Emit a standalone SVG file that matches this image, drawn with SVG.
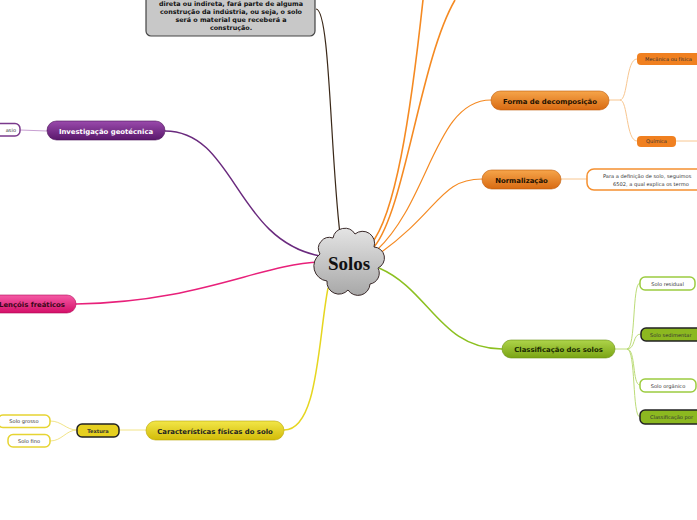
<svg xmlns="http://www.w3.org/2000/svg" width="697" height="520" viewBox="0 0 697 520">
<defs>
<linearGradient id="gPurple" x1="0" y1="0" x2="0" y2="1"><stop offset="0" stop-color="#9a4aac"/><stop offset="1" stop-color="#5a186c"/></linearGradient>
<linearGradient id="gPink" x1="0" y1="0" x2="0" y2="1"><stop offset="0" stop-color="#f55aa5"/><stop offset="1" stop-color="#d40f68"/></linearGradient>
<linearGradient id="gYellow" x1="0" y1="0" x2="0" y2="1"><stop offset="0" stop-color="#f2e648"/><stop offset="1" stop-color="#d2bb08"/></linearGradient>
<linearGradient id="gGreen" x1="0" y1="0" x2="0" y2="1"><stop offset="0" stop-color="#aed44a"/><stop offset="1" stop-color="#7aa414"/></linearGradient>
<linearGradient id="gOrange" x1="0" y1="0" x2="0" y2="1"><stop offset="0" stop-color="#f6a54a"/><stop offset="1" stop-color="#d86a12"/></linearGradient>
<linearGradient id="gCloud" x1="0" y1="0" x2="0" y2="1"><stop offset="0" stop-color="#e4e4e4"/><stop offset="1" stop-color="#a8a8a8"/></linearGradient>
</defs>
<style>
.main{font-family:"DejaVu Sans",Verdana,sans-serif;font-size:6.9px;font-weight:bold;text-anchor:middle}
.sm{font-family:"DejaVu Sans",Verdana,sans-serif;font-size:5.1px;fill:#333}
.c{fill:none}
.pill{stroke-width:0.6}
.box{stroke-width:1.5;fill:#fff}
</style>
<g id="connectors">
<path class="c" d="M316,9 C330,9 330,150 340,234" stroke="#3a2818" stroke-width="1.2"/>
<path class="c" d="M165,131 C235,131 235,240 320,256" stroke="#6a2a7e" stroke-width="1.5"/>
<path class="c" d="M76,304 C200,302 260,264 320,262" stroke="#e8207a" stroke-width="1.5"/>
<path class="c" d="M328,288 C318,340 318,430 284,430" stroke="#e6d620" stroke-width="1.5"/>
<path class="c" d="M379,268 C430,290 440,349 502,349" stroke="#8cc020" stroke-width="1.5"/>
<path class="c" d="M371,244 C395,215 410,120 423,0" stroke="#f58a22" stroke-width="1.6"/>
<path class="c" d="M374,247 C405,210 420,60 455,0" stroke="#f58a22" stroke-width="1.6"/>
<path class="c" d="M377,250 C430,200 435,100 491,100" stroke="#f58a22" stroke-width="1.2"/>
<path class="c" d="M379,254 C440,210 440,179 482,179" stroke="#f58a22" stroke-width="1.2"/>
<path class="c" d="M609,100 L620,100 C628,100 626,59 637,59 M620,100 C628,100 626,141 637,141" stroke="#f8c690" stroke-width="1"/>
<path class="c" d="M561,179 L587,179" stroke="#f8c690" stroke-width="1"/>
<path class="c" d="M676,141 L697,141" stroke="#f8c690" stroke-width="1"/>
<path class="c" d="M615,349 L627,349 C636,349 632,283 640,283 M627,349 C636,349 632,334 641,334 M627,349 C636,349 632,385 640,385 M627,349 C636,349 632,417 640,417" stroke="#bcdc78" stroke-width="1"/>
<path class="c" d="M146,430 L119,430 M77,430 C66,430 62,421 50,421 M77,430 C66,430 62,441 50,441" stroke="#f2e488" stroke-width="1"/>
<path class="c" d="M47,131 L20,130" stroke="#c8a0d2" stroke-width="1"/>
</g>
<g id="note">
<rect x="146" y="-20" width="169" height="56" rx="5" fill="#c8c8c8" stroke="#444" stroke-width="1.2"/>
<g font-family="DejaVu Sans,Verdana,sans-serif" font-size="6.4" font-weight="bold" text-anchor="middle" fill="#111">
<text x="231" y="6">direta ou indireta, fará parte de alguma</text>
<text x="231" y="14">construção da indústria, ou seja, o solo</text>
<text x="231" y="21.8">será o material que receberá a</text>
<text x="231" y="29.5">construção.</text>
</g>
</g>
<g id="solos">
<path d="M320,254 A11,11 0 0 1 333,238 A12,12 0 0 1 355,234 A12,12 0 0 1 374,247 A11,11 0 0 1 378,268 A11,11 0 0 1 370,284 A12,12 0 0 1 348,290 A12,12 0 0 1 327,281 A15,15 0 0 1 320,254 Z" fill="url(#gCloud)" stroke="#3a2a2a" stroke-width="1"/>
<text x="349" y="270" font-family="Liberation Serif,serif" font-size="19" font-weight="bold" text-anchor="middle" fill="#111">Solos</text>
</g>
<g id="investigacao">
<rect class="pill" x="47" y="121" width="118" height="19" rx="9.5" fill="url(#gPurple)" stroke="#4a1058"/>
<text class="main" x="106" y="133.5" fill="#fff">Investigação geotécnica</text>
</g>
<g id="investigacao-child">
<rect class="box" x="-10" y="123.5" width="30" height="12.5" rx="5" stroke="#7a3a8c"/>
<text class="sm" x="16" y="131.8" text-anchor="end">asio</text>
</g>
<g id="lencois">
<rect class="pill" x="-20" y="295" width="96" height="18" rx="9" fill="url(#gPink)" stroke="#b00a58"/>
<text class="main" x="-1" y="307" fill="#3a0818" style="text-anchor:start">Lençóis freáticos</text>
</g>
<g id="caracteristicas">
<rect class="pill" x="146" y="421" width="138" height="19" rx="9.5" fill="url(#gYellow)" stroke="#b8a400"/>
<text class="main" x="215" y="433.5" fill="#222">Características físicas do solo</text>
</g>
<g id="textura">
<rect x="77" y="424" width="42" height="13" rx="5" fill="#e6d020" stroke="#222" stroke-width="1.5"/>
<text class="sm" x="98" y="432.5" text-anchor="middle" fill="#111" font-weight="bold">Textura</text>
</g>
<g id="solo-grosso">
<rect class="box" x="-2" y="415" width="52" height="12.5" rx="5" stroke="#e6d432"/>
<text class="sm" x="24" y="423.2" text-anchor="middle">Solo grosso</text>
</g>
<g id="solo-fino">
<rect class="box" x="8" y="434.5" width="42" height="12.5" rx="5" stroke="#e6d432"/>
<text class="sm" x="29" y="442.7" text-anchor="middle">Solo fino</text>
</g>
<g id="classificacao">
<rect class="pill" x="502" y="340" width="113" height="18" rx="9" fill="url(#gGreen)" stroke="#6a9010"/>
<text class="main" x="558.5" y="352" fill="#1a2a00">Classificação dos solos</text>
</g>
<g id="solo-residual">
<rect class="box" x="640" y="277" width="55" height="13" rx="5" stroke="#9ccc40"/>
<text class="sm" x="667.5" y="285.5" text-anchor="middle">Solo residual</text>
</g>
<g id="solo-sedimentar">
<rect x="641" y="328" width="70" height="13" rx="5" fill="#8cb820" stroke="#222" stroke-width="1.5"/>
<text class="sm" x="650" y="336.5" fill="#111">Solo sedimentar</text>
</g>
<g id="solo-organico">
<rect class="box" x="640" y="379" width="56" height="13" rx="5" stroke="#9ccc40"/>
<text class="sm" x="668" y="387.5" text-anchor="middle">Solo orgânico</text>
</g>
<g id="classificacao-por">
<rect x="640" y="410" width="70" height="14" rx="5" fill="#8cb820" stroke="#222" stroke-width="1.5"/>
<text class="sm" x="650" y="419" fill="#111">Classificação por</text>
</g>
<g id="forma">
<rect class="pill" x="491" y="91" width="118" height="19" rx="9.5" fill="url(#gOrange)" stroke="#c05a08"/>
<text class="main" x="550" y="103.5" fill="#221000">Forma de decomposição</text>
</g>
<g id="mecanica">
<rect x="637" y="53" width="70" height="12" rx="4" fill="#f08020"/>
<text class="sm" x="645" y="60.8" fill="#fff">Mecânica ou física</text>
</g>
<g id="quimica">
<rect x="637" y="136" width="39" height="11" rx="4" fill="#f08020"/>
<text class="sm" x="656.5" y="143.4" text-anchor="middle" fill="#fff">Química</text>
</g>
<g id="normalizacao">
<rect class="pill" x="482" y="170" width="79" height="19" rx="9.5" fill="url(#gOrange)" stroke="#c05a08"/>
<text class="main" x="521.5" y="182.5" fill="#221000">Normalização</text>
</g>
<g id="normalizacao-child">
<rect class="box" x="587" y="169" width="125" height="21" rx="7" stroke="#f59030"/>
<text class="sm" x="603" y="178">Para a definição de solo, seguimos</text>
<text class="sm" x="613" y="186.3">6502, a qual explica os termo</text>
</g>
</svg>
